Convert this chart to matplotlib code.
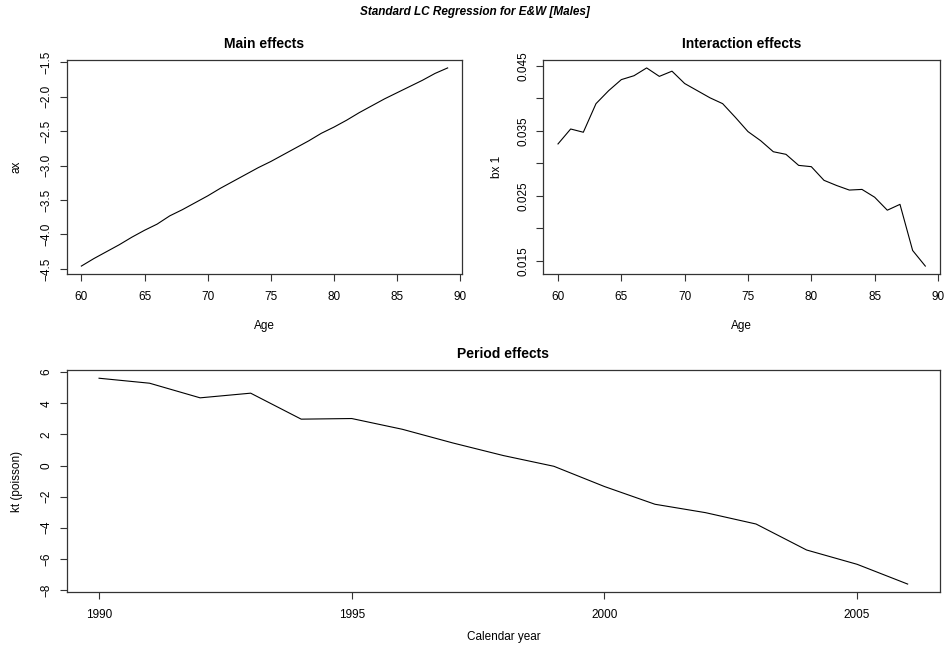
import matplotlib
matplotlib.use('Agg')
import matplotlib.pyplot as plt
import numpy as np

# 年龄与年份
ages = list(range(60, 90))
years = list(range(1990, 2007))

# 主效应 ax
ax_values = [-4.46, -4.35, -4.25, -4.15, -4.04, -3.94, -3.85, -3.73, -3.64, -3.54,
             -3.44, -3.33, -3.23, -3.13, -3.03, -2.94, -2.84, -2.74, -2.64, -2.53,
             -2.44, -2.34, -2.23, -2.13, -2.03, -1.94, -1.85, -1.76, -1.66, -1.58]

# 交互效应 bx 1
bx_values = [0.0330, 0.0353, 0.0348, 0.0392, 0.0412, 0.0429, 0.0435, 0.0447, 0.0434, 0.0442,
             0.0423, 0.0412, 0.0401, 0.0392, 0.0371, 0.0349, 0.0335, 0.0318, 0.0314, 0.0297,
             0.0295, 0.0274, 0.0266, 0.0259, 0.0260, 0.0248, 0.0228, 0.0237, 0.0166, 0.0142]

# 时期效应 kt
kt_values = [5.61, 5.29, 4.35, 4.65, 2.98, 3.02, 2.33, 1.45, 0.64, -0.05,
             -1.35, -2.49, -3.03, -3.76, -5.43, -6.35, -7.62]

age_ticks = [60, 65, 70, 75, 80, 85, 90]
ax_ticks = [-4.5, -4.0, -3.5, -3.0, -2.5, -2.0, -1.5]
ax_tick_labels = ['\u22124.5', '\u22124.0', '\u22123.5', '\u22123.0', '\u22122.5', '\u22122.0', '\u22121.5']
bx_ticks = [0.015, 0.020, 0.025, 0.030, 0.035, 0.040, 0.045]
bx_tick_labels = ['0.015', '', '0.025', '', '0.035', '', '0.045']
year_ticks = [1990, 1995, 2000, 2005]
kt_ticks = [-8, -6, -4, -2, 0, 2, 4, 6]
kt_tick_labels = ['\u22128', '\u22126', '\u22124', '\u22122', '0', '2', '4', '6']

plt.rcParams['font.family'] = ['Liberation Sans', 'DejaVu Sans']
plt.rcParams['axes.unicode_minus'] = True

W, H = 950, 652
fig = plt.figure(figsize=(W / 100, H / 100), dpi=100)


def px_axes(left, top, right, bottom):
    # 按像素位置放置子图
    return fig.add_axes([left / W, 1 - bottom / H, (right - left) / W, (bottom - top) / H])


def style(ax, x, y, xticks, yticks, ylabels, title, xlabel, ylabel, xlab_px, ylab_px):
    ax.plot(x, y, color='black', lw=0.8)
    ax.margins(x=0.04, y=0.04)
    ax.set_xticks(xticks)
    ax.set_xticklabels([str(t) for t in xticks])
    ax.set_yticks(yticks)
    ax.set_yticklabels(ylabels, rotation=90, va='center')
    ax.tick_params(direction='out', length=5, width=0.8, labelsize=8.5, color='#333333')
    ax.tick_params(axis='x', pad=7)
    ax.tick_params(axis='y', pad=5)
    for s in ax.spines.values():
        s.set_linewidth(0.9)
        s.set_color('#333333')
    ax.set_title(title, fontsize=10, fontweight='bold', pad=8.5)
    bbox = ax.get_position()
    ax_h = bbox.height * H
    ax_w = bbox.width * W
    ax.set_xlabel(xlabel, fontsize=8.5, va='center')
    ax.xaxis.set_label_coords(0.5, -xlab_px / ax_h)
    ax.set_ylabel(ylabel, fontsize=8.5, va='center')
    ax.yaxis.set_label_coords(-ylab_px / ax_w, 0.5)


# 主效应
a1 = px_axes(66.7, 60, 462.3, 274)
style(a1, ages, ax_values, age_ticks, ax_ticks, ax_tick_labels,
      'Main effects', 'Age', 'ax', 52, 50)
a1.set_xlim(58.84, 90.16)

# 交互效应
a2 = px_axes(543.3, 60, 940, 274)
style(a2, ages, bx_values, age_ticks, bx_ticks, bx_tick_labels,
      'Interaction effects', 'Age', 'bx 1', 52, 46)
a2.set_xlim(58.84, 90.16)

# 时期效应
a3 = px_axes(66.7, 370, 940, 592.3)
style(a3, years, kt_values, year_ticks, kt_ticks, kt_tick_labels,
      'Period effects', 'Calendar year', 'kt (poisson)', 45, 50)

fig.text(0.5, 1 - 12 / H, 'Standard LC Regression for E&W [Males]',
         ha='center', va='center', fontsize=8.5, fontweight='bold', fontstyle='italic')

fig.savefig('out.png', dpi=100)
